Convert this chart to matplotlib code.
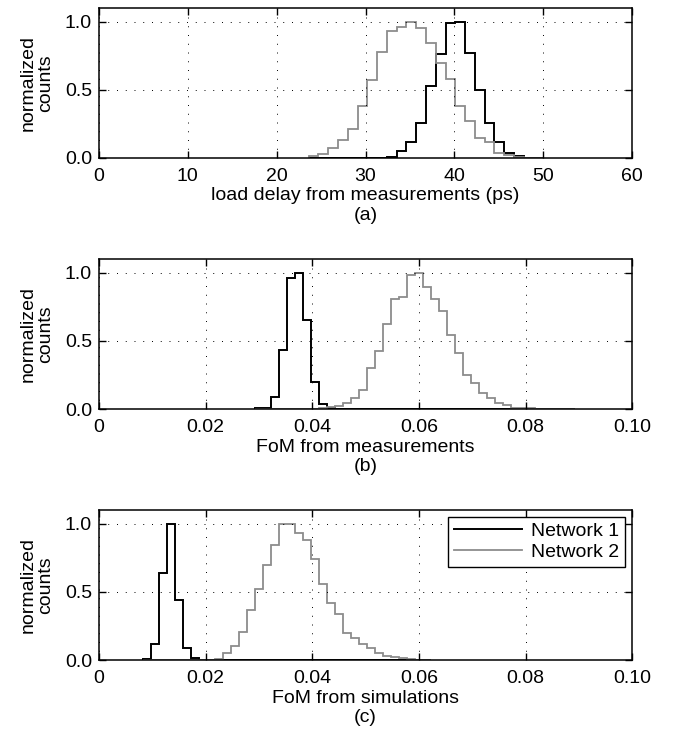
import numpy as np
import matplotlib
matplotlib.use("Agg")
import matplotlib.pyplot as plt

# panel (a): load delay from measurements (ps)
a_start, a_bin = 23.6, 1.1
a_net1 = [0, 0, 0, 0, 0, 0, 0, 0, 0.007, 0.05, 0.12, 0.26, 0.525, 0.76, 0.99, 1.0,
          0.77, 0.5, 0.26, 0.12, 0.04, 0.012, 0.003, 0]
a_net2 = [0.012, 0.03, 0.07, 0.13, 0.21, 0.38, 0.57, 0.78, 0.93, 0.96, 1.0, 0.95,
          0.84, 0.695, 0.58, 0.38, 0.27, 0.15, 0.115, 0.04, 0.02, 0.007, 0, 0]

# panel (b): FoM from measurements
b_start, b_bin = 0.0293, 0.0015
b_net1 = [0.005, 0.01, 0.09, 0.43, 0.96, 1.0, 0.65, 0.2, 0.036, 0.005,
          0, 0, 0, 0, 0, 0, 0, 0, 0, 0, 0, 0, 0, 0, 0, 0, 0, 0, 0, 0,
          0, 0, 0, 0, 0, 0, 0, 0, 0, 0]
b_net2 = [0, 0, 0, 0, 0, 0, 0, 0, 0.004, 0.012, 0.024, 0.046, 0.083, 0.14, 0.30,
          0.425, 0.625, 0.81, 0.82, 0.98, 1.0, 0.895, 0.805, 0.72, 0.54, 0.41, 0.25,
          0.19, 0.12, 0.078, 0.041, 0.03, 0.01, 0.005, 0.008, 0.003, 0.003, 0.003,
          0.003, 0]

# panel (c): FoM from simulations
c_start, c_bin = 0.0082, 0.0015
c_net1 = [0.01, 0.12, 0.64, 1.0, 0.44, 0.085, 0.012, 0, 0, 0, 0, 0, 0, 0, 0, 0,
          0, 0, 0, 0, 0, 0, 0, 0, 0, 0, 0, 0, 0, 0, 0, 0, 0, 0, 0, 0]
c_net2 = [0, 0, 0, 0, 0, 0, 0, 0, 0.003, 0.007, 0.05, 0.10, 0.207, 0.37, 0.524,
          0.70, 0.846, 1.0, 1.0, 0.93, 0.878, 0.74, 0.554, 0.415, 0.34, 0.195, 0.16,
          0.12, 0.085, 0.055, 0.03, 0.02, 0.012, 0.007, 0.003, 0.003]

series_names = ["Network 1", "Network 2"]
y_ticks = [0.0, 0.5, 1.0]
a_ticks = [0, 10, 20, 30, 40, 50, 60]
fom_ticks = [0, 0.02, 0.04, 0.06, 0.08, 0.10]
fom_labels = ["0", "0.02", "0.04", "0.06", "0.08", "0.10"]

plt.rcParams["font.family"] = ["Liberation Sans", "DejaVu Sans"]
plt.rcParams["font.size"] = 14

fig = plt.figure(figsize=(6.8, 7.39), dpi=100)

panels = [
    (0.7862, a_start, a_bin, a_net1, a_net2, (0, 60), a_ticks, [str(t) for t in a_ticks],
     "load delay from measurements (ps)\n(a)", False),
    (0.4465, b_start, b_bin, b_net1, b_net2, (0, 0.10), fom_ticks, fom_labels,
     "FoM from measurements\n(b)", False),
    (0.1069, c_start, c_bin, c_net1, c_net2, (0, 0.10), fom_ticks, fom_labels,
     "FoM from simulations\n(c)", True),
]

for bottom, start, width, n1, n2, xlim, xt, xtl, xlabel, legend in panels:
    ax = fig.add_axes([0.1456, bottom, 0.784, 0.203])
    edges = start + width * np.arange(len(n1) + 1)
    ax.stairs(n1, edges, baseline=0, color="black", lw=1.4, label=series_names[0])
    ax.stairs(n2, edges, baseline=0, color="#8c8c8c", lw=1.3, label=series_names[1])
    ax.set_xlim(*xlim)
    ax.set_ylim(0, 1.1)
    ax.set_xticks(xt)
    ax.set_xticklabels(xtl)
    ax.set_yticks(y_ticks)
    ax.set_yticklabels(["0.0", "0.5", "1.0"])
    ax.grid(True, color="black", linestyle=(0, (1, 8)), lw=0.7)
    ax.tick_params(direction="in", top=True, right=True, length=5, width=1)
    ax.tick_params(axis="x", pad=7)
    ax.tick_params(axis="y", pad=5)
    for sp in ax.spines.values():
        sp.set_linewidth(1.1)
    ax.set_xlabel(xlabel, linespacing=1.2, labelpad=2)
    ax.set_ylabel("normalized\ncounts", linespacing=1.0, labelpad=8)
    if legend:
        leg = ax.legend(loc="upper right", frameon=True, fancybox=False, framealpha=1,
                        edgecolor="black", handlelength=3.5, borderaxespad=0.35,
                        handletextpad=0.5, labelspacing=0.15, borderpad=0.3)
        leg.get_frame().set_linewidth(1.0)

fig.savefig("out.png", dpi=100)
